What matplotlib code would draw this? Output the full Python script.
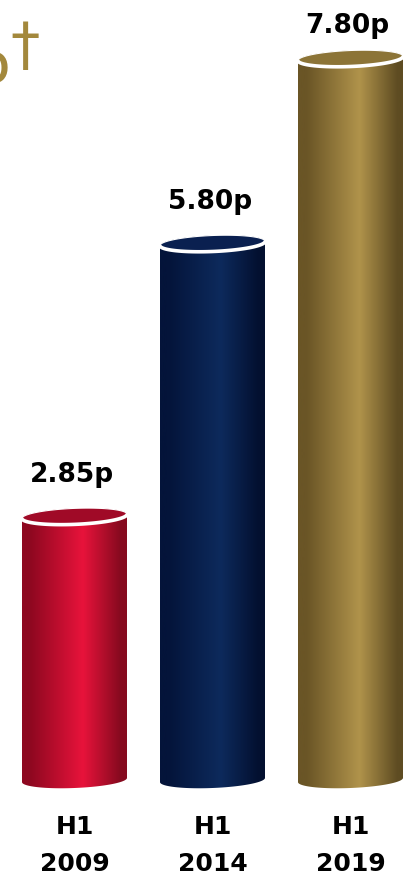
import numpy as np
import matplotlib
matplotlib.use('Agg')
import matplotlib.pyplot as plt
from matplotlib.patches import Polygon
from matplotlib.colors import LinearSegmentedColormap

# interim dividend per share
periods = ['2009', '2014', '2019']
half = ['H1', 'H1', 'H1']
dividend = [2.85, 5.80, 7.80]
value_labels = ['2.85p', '5.80p', '7.80p']

# (edge, highlight, far edge) shades for each cylinder, plus the darker cap
body_shades = [
    ('#8e0820', '#e8133b', '#860a1f'),
    ('#04143a', '#0d2a5c', '#031030'),
    ('#6a5526', '#b0934b', '#5e4c22'),
]
cap_colors = ['#a00a27', '#0a2050', '#8c7437']
GOLD = '#a3883c'

W, H = 416, 876
PX_X = 138.0          # pixels per category step
PX_Y = 92.5           # pixels per penny
BASE_PX = 96          # baseline height above figure bottom
BAR_W = 105 / PX_X
RY = 8 / PX_Y         # half-height of the elliptical ends
TILT = 0.04 * PX_X / PX_Y
LABEL_GAP = 0.37
LABEL_CEIL = (H - 33 - BASE_PX) / PX_Y

fig = plt.figure(figsize=(W / 100, H / 100), dpi=100)
ax = fig.add_axes([0, 0, 1, 1])
ax.axis('off')


def arc(xc, yc, t):
    xs = xc + (BAR_W / 2) * np.cos(t)
    ys = yc + RY * np.sin(t) + TILT * (xs - xc)
    return np.column_stack([xs, ys])


def cylinder(xc, top, shades, cap):
    lower = np.linspace(np.pi, 2 * np.pi, 80)
    upper = np.linspace(0, np.pi, 80)
    outline = np.vstack([arc(xc, 0, lower), arc(xc, top, upper)])
    body = Polygon(outline, closed=True, facecolor='none', edgecolor='none')
    ax.add_patch(body)

    cmap = LinearSegmentedColormap.from_list(
        'c', [(0, shades[0]), (0.08, shades[0]), (0.58, shades[1]), (0.94, shades[2]), (1, shades[2])])
    grad = np.linspace(0, 1, 256)[None, :]
    im = ax.imshow(grad, cmap=cmap, extent=[xc - BAR_W / 2, xc + BAR_W / 2, -0.4, top + 0.4],
                   aspect='auto', origin='lower', interpolation='bicubic', zorder=2)
    im.set_clip_path(body)

    full = np.linspace(0, 2 * np.pi, 160)
    ax.add_patch(Polygon(arc(xc, top, full), closed=True, facecolor=cap,
                         edgecolor='white', linewidth=0.8, zorder=3))
    rim = arc(xc, top, np.linspace(np.pi * 1.02, np.pi * 1.98, 80))
    ax.plot(rim[:, 0], rim[:, 1], color='white', lw=2.6, solid_capstyle='round', zorder=4)


xs = np.arange(len(dividend))
for i, v in enumerate(dividend):
    cylinder(xs[i], v, body_shades[i], cap_colors[i])
    ax.text(xs[i] - 0.02, min(v + LABEL_GAP, LABEL_CEIL), value_labels[i],
            ha='center', va='baseline', fontsize=19, fontweight='bold',
            family='DejaVu Sans', color='black', zorder=5)

# period labels under each cylinder
for i in range(len(dividend)):
    ax.text(xs[i], (H - 834 - BASE_PX) / PX_Y, half[i], ha='center', va='baseline',
            fontsize=18, fontweight='bold', color='black')
    ax.text(xs[i], (H - 871 - BASE_PX) / PX_Y, periods[i], ha='center', va='baseline',
            fontsize=18, fontweight='bold', color='black')

# tail of the heading running in from the left
fig.text(12 / W, 1 - 82 / H, '%', ha='right', va='baseline', fontsize=56, color=GOLD)
fig.text(10 / W, 1 - 19 / H, '\u2020', ha='left', va='top', fontsize=42, color=GOLD)

ax.set_xlim(-74.5 / PX_X, (W - 74.5) / PX_X)
ax.set_ylim(-BASE_PX / PX_Y, (H - BASE_PX) / PX_Y)

fig.savefig('out.png', dpi=100, facecolor='white')
